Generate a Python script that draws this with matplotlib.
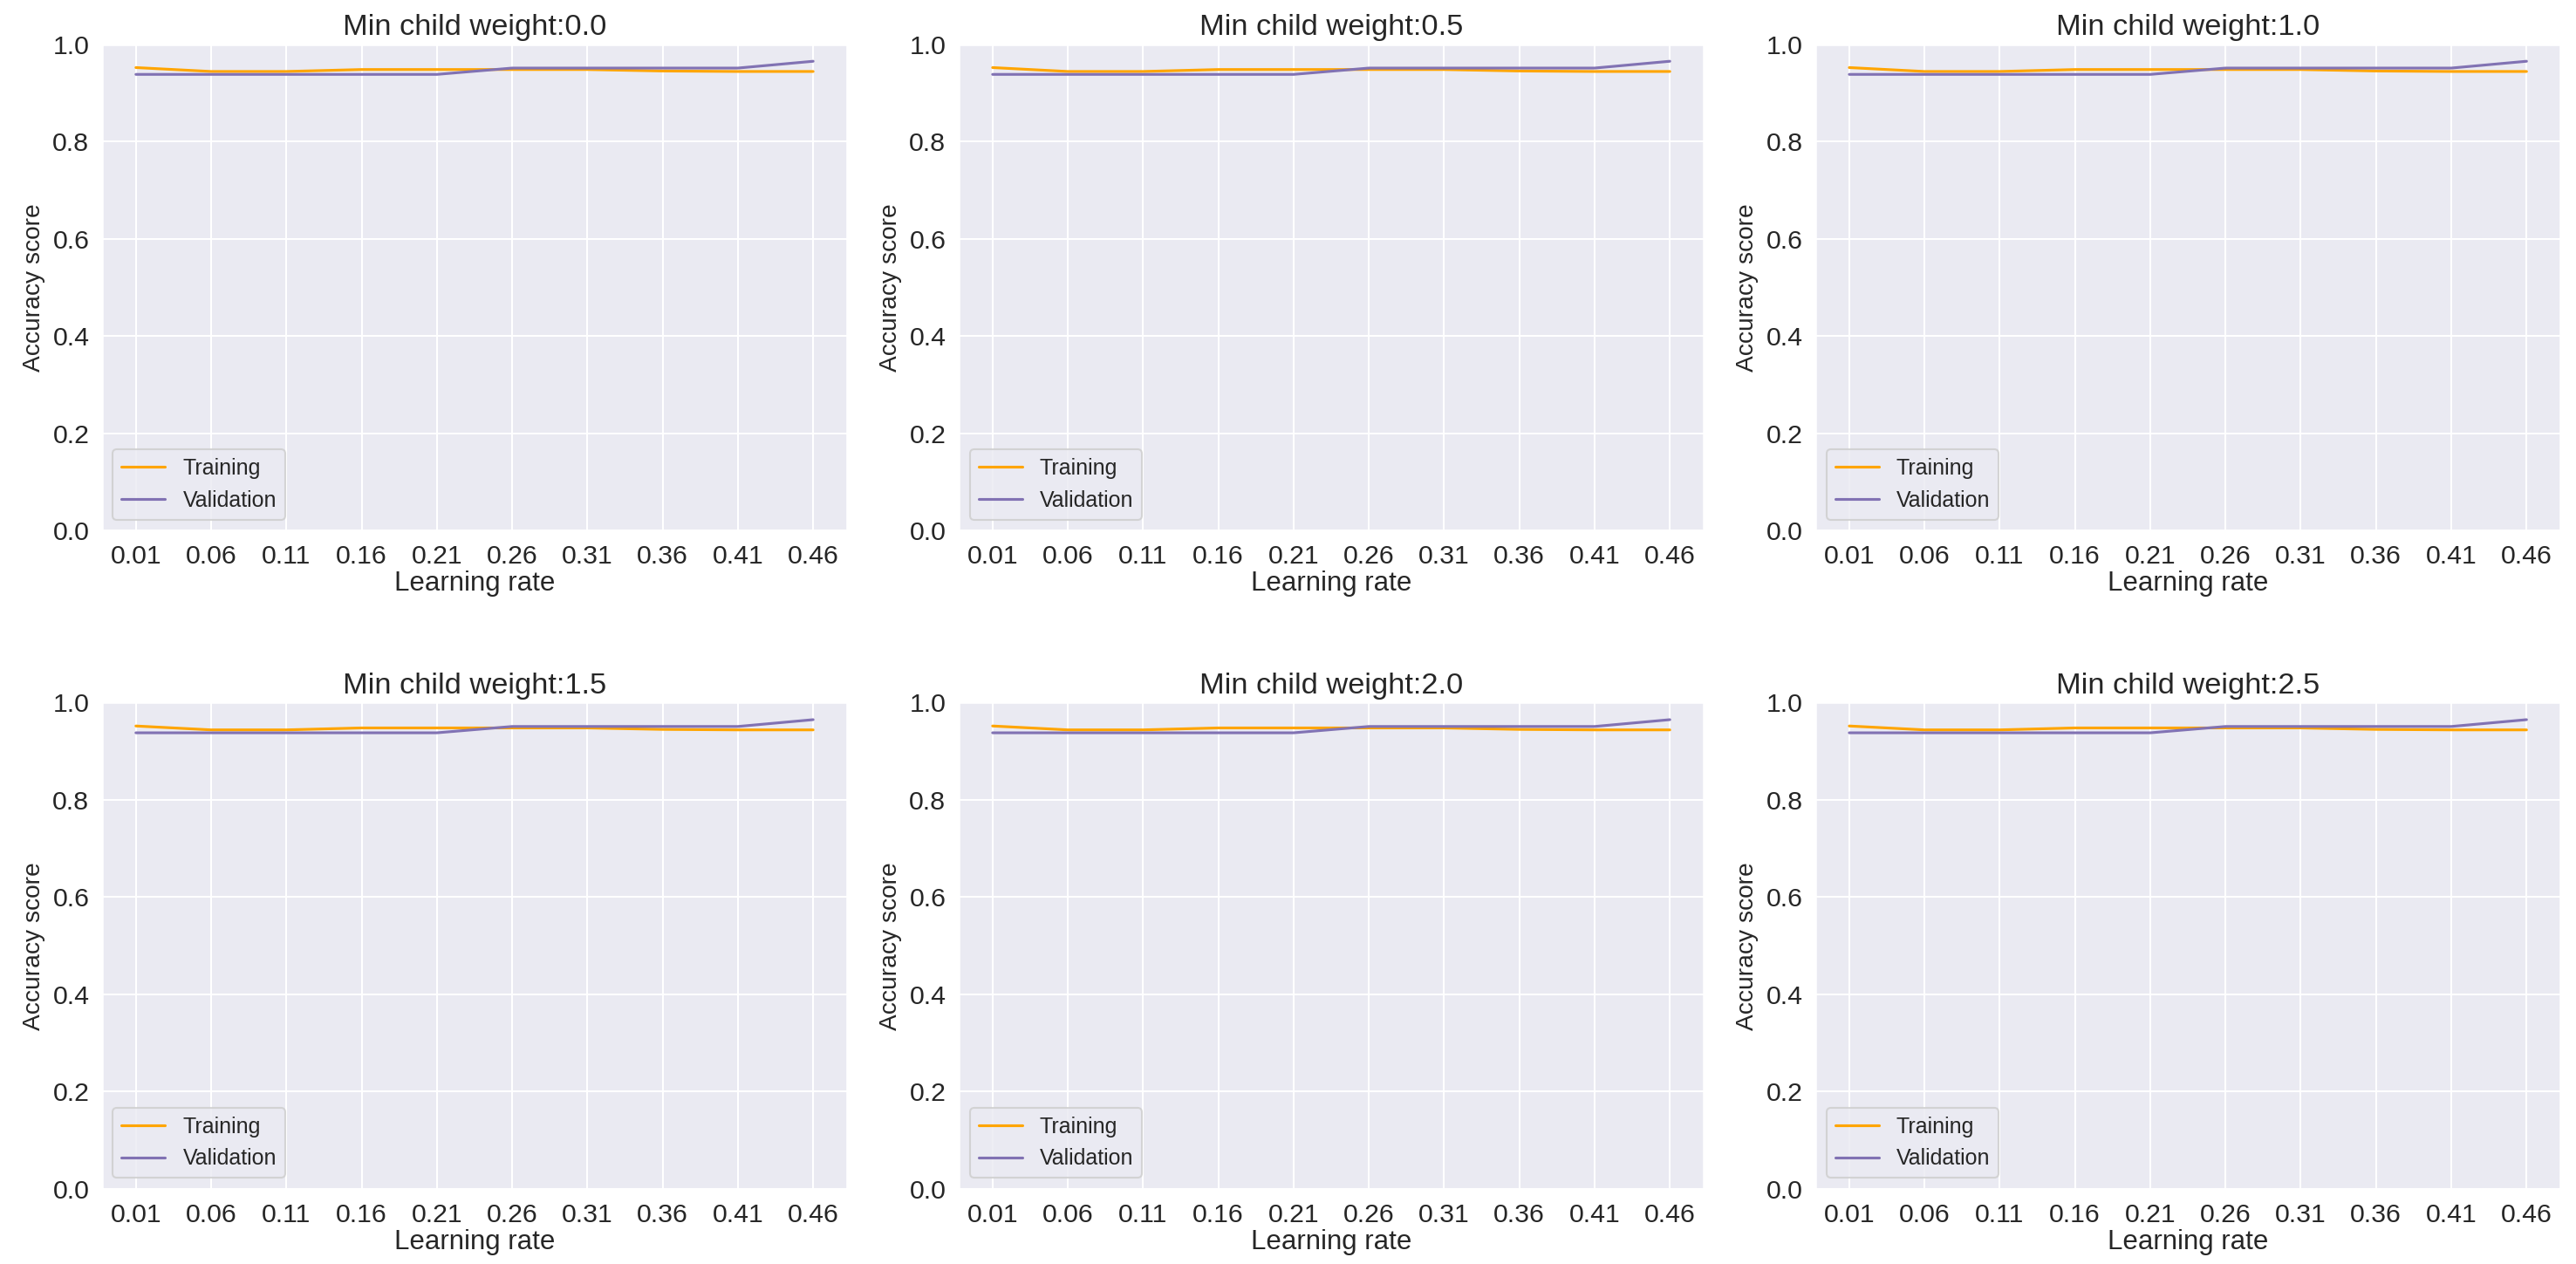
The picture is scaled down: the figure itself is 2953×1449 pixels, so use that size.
import matplotlib
matplotlib.use("Agg")
import matplotlib.pyplot as plt
import seaborn as sns

learning_rates = [0.01, 0.06, 0.11, 0.16, 0.21, 0.26, 0.31, 0.36, 0.41, 0.46]
tick_labels = ["0.01", "0.06", "0.11", "0.16", "0.21", "0.26", "0.31", "0.36", "0.41", "0.46"]
min_child_weights = [0.0, 0.5, 1.0, 1.5, 2.0, 2.5]
train_scores = [0.952, 0.944, 0.944, 0.948, 0.948, 0.948, 0.948, 0.945, 0.944, 0.944]
val_scores = [0.938, 0.938, 0.938, 0.938, 0.938, 0.951, 0.951, 0.951, 0.951, 0.965]

sns.set_theme(style="darkgrid")
plt.rcParams['font.family'] = ['Liberation Sans', 'DejaVu Sans']

fig, axes = plt.subplots(2, 3, figsize=(2954/150, 1449/150), dpi=150)
fig.subplots_adjust(left=0.0396, right=0.9936, top=0.965, bottom=0.0594,
                    wspace=0.15, hspace=0.354)

for ax, mcw in zip(axes.flat, min_child_weights):
    ax.plot(learning_rates, train_scores, color="orange", lw=1.5, label="Training")
    ax.plot(learning_rates, val_scores, color="#8172B3", lw=1.5, label="Validation")
    ax.set_ylim(0, 1.0)
    ax.set_xticks(learning_rates)
    ax.set_xticklabels(tick_labels, fontsize=14.5)
    ax.set_yticks([0.0, 0.2, 0.4, 0.6, 0.8, 1.0])
    ax.set_yticklabels(["0.0", "0.2", "0.4", "0.6", "0.8", "1.0"], fontsize=14.5)
    ax.tick_params(axis='x', pad=1.5)
    ax.tick_params(axis='y', pad=1.0)
    ax.set_title(f"Min child weight:{mcw}", fontsize=16.5, color="#262626", pad=5)
    ax.set_xlabel("Learning rate", fontsize=15, color="#262626", labelpad=1)
    ax.set_ylabel("Accuracy score", fontsize=13.5, color="#262626", labelpad=4)
    ax.legend(loc="lower left", fontsize=12)

fig.savefig("out.png", dpi=150)
